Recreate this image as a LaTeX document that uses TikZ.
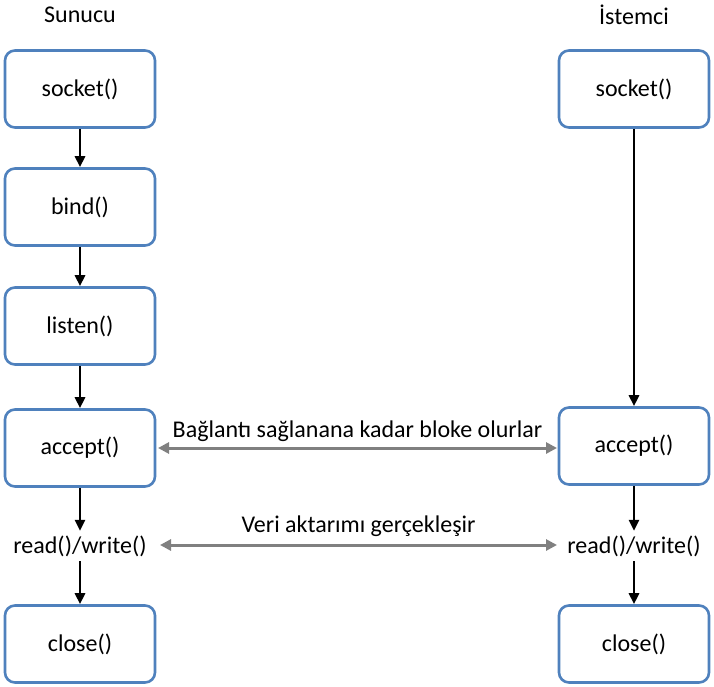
\documentclass[tikz,border=0pt]{standalone}
\usepackage{fontspec}
\setmainfont{Carlito}
\usetikzlibrary{arrows.meta}
\definecolor{bblue}{RGB}{79,129,189}
\definecolor{ggray}{RGB}{128,128,128}
\begin{document}
\begin{tikzpicture}[x=1pt,y=-1pt,
  box/.style={draw=bblue,line width=2.6pt,rounded corners=10pt,minimum width=150pt,minimum height=77pt,fill=white,font=\fontsize{24}{28}\selectfont},
  txt/.style={font=\fontsize{24}{28}\selectfont,inner sep=2pt},
  flow/.style={-{Triangle[length=11pt,width=10pt]},line width=2.8pt},
  link/.style={{Triangle[length=11pt,width=11pt]}-{Triangle[length=11pt,width=11pt]},line width=3pt,draw=ggray}]
\useasboundingbox (0,0) rectangle (714,687);
\node[txt] (t1) at (80,15) {Sunucu};
\node[txt] (t2) at (634,15) {İstemci};
\node[box] (s1) at (80,89) {socket()};
\node[box] (s2) at (80,207) {bind()};
\node[box] (s3) at (80,326) {listen()};
\node[box] (s4) at (80,448) {accept()};
\node[txt,minimum height=30pt] (s5) at (80,546) {read()/write()};
\node[box] (s6) at (80,644) {close()};
\node[box] (c1) at (634,89) {socket()};
\node[box] (c4) at (634,446) {accept()};
\node[txt,minimum height=30pt] (c5) at (634,546) {read()/write()};
\node[box] (c6) at (634,644) {close()};
\draw[flow] (s1) -- (s2);
\draw[flow] (s2) -- (s3);
\draw[flow] (s3) -- (s4);
\draw[flow] (s4) -- (s5);
\draw[flow] (s5) -- (s6);
\draw[flow] (c1) -- (c4);
\draw[flow] (c4) -- (c5);
\draw[flow] (c5) -- (c6);
\coordinate (a1) at (158,448);
\coordinate (a2) at (557,448);
\draw[link] (a1) -- (a2) node[midway,above=3pt,txt] (l1) {Bağlantı sağlanana kadar bloke olurlar};
\coordinate (b1) at (160,545);
\coordinate (b2) at (557,545);
\draw[link] (b1) -- (b2) node[midway,above=5pt,txt] (l2) {Veri aktarımı gerçekleşir};
\end{tikzpicture}
\end{document}
